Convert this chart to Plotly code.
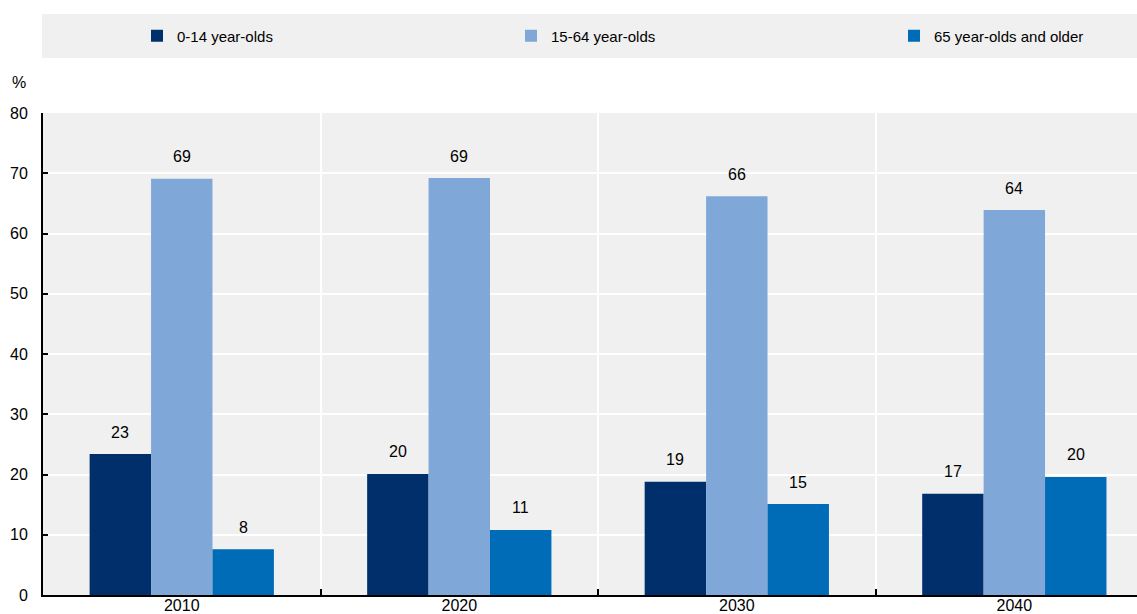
import plotly.graph_objects as go

years = ["2010", "2020", "2030", "2040"]
age_0_14 = [23.4, 20.1, 18.8, 16.8]
age_15_64 = [69.1, 69.2, 66.2, 63.9]
age_65_plus = [7.6, 10.8, 15.1, 19.6]
series_names = ["0-14 year-olds", "15-64 year-olds", "65 year-olds and older"]
series_colors = ["#002F6C", "#7FA8D9", "#006BB6"]
y_ticks = [0, 10, 20, 30, 40, 50, 60, 70, 80]

FONT = "Liberation Sans Narrow, Arial Narrow, Liberation Sans, Arial, sans-serif"
FS = 16
W, H = 1137, 614
ML, MR, MT, MB = 43, 0, 113, 19
plot_w = W - ML - MR
plot_h = H - MT - MB

fig = go.Figure()
all_series = [age_0_14, age_15_64, age_65_plus]
legend_ids = ["legend", "legend2", "legend3"]
for name, vals, col, lid in zip(series_names, all_series, series_colors, legend_ids):
    fig.add_trace(go.Bar(
        x=years, y=vals, name=name, legend=lid,
        marker=dict(color=col, line=dict(width=0)),
        hoverinfo="x+y+name",
    ))

# value labels above bars
x_range = [-0.5, 3.442]
cat_px = plot_w / (x_range[1] - x_range[0])
bargap = 0.336
bar_px = cat_px * (1 - bargap) / 3
for i, vals in enumerate(all_series):
    for j, v in enumerate(vals):
        fig.add_annotation(
            x=j, y=v, xref="x", yref="y", text=f"{v:.0f}", showarrow=False,
            xshift=(i - 1) * bar_px, yshift=22, yanchor="middle",
            font=dict(family=FONT, size=FS, color="#000000"),
        )

# legend band
fig.add_shape(type="rect", xref="paper", yref="paper",
              x0=-1 / plot_w, x1=1, y0=(H - MB - 58) / plot_h, y1=(H - MB - 14) / plot_h,
              fillcolor="#F0F0F0", line=dict(width=0), layer="below")

fig.add_annotation(xref="paper", yref="paper", x=-15 / plot_w, y=(H - MB - 82) / plot_h,
                   text="%", showarrow=False, xanchor="right", yanchor="middle",
                   font=dict(family=FONT, size=FS, color="#000000"))

legend_text_x = [179, 553, 936]
legend_y = (H - MB - 36) / plot_h
legend_common = dict(
    orientation="h", xanchor="left", yanchor="middle", y=legend_y,
    bgcolor="rgba(0,0,0,0)", font=dict(family=FONT, size=15, color="#000000"),
)

fig.update_layout(
    width=W, height=H,
    margin=dict(l=ML, r=MR, t=MT, b=MB, pad=0, autoexpand=False),
    paper_bgcolor="#FFFFFF", plot_bgcolor="#F0F0F0",
    barmode="group", bargap=bargap, bargroupgap=0,
    font=dict(family=FONT, size=FS, color="#000000"),
    showlegend=True,
    legend=dict(x=(legend_text_x[0] - 42 - ML) / plot_w, **legend_common),
    legend2=dict(x=(legend_text_x[1] - 42 - ML) / plot_w, **legend_common),
    legend3=dict(x=(legend_text_x[2] - 42 - ML) / plot_w, **legend_common),
    xaxis=dict(
        type="category", range=x_range, showgrid=True, gridcolor="#FFFFFF", gridwidth=2,
        tickson="boundaries", ticks="inside", ticklen=6, tickcolor="#000000", tickwidth=2,
        showline=True, linecolor="#000000", linewidth=2,
        ticklabelstandoff=-5, tickfont=dict(family=FONT, size=FS),
        zeroline=False, fixedrange=True,
    ),
    yaxis=dict(
        range=[0, 80], tickvals=y_ticks, showgrid=True, gridcolor="#FFFFFF", gridwidth=2,
        showline=True, linecolor="#000000", linewidth=2,
        ticks="inside", ticklen=5, tickcolor="#000000", tickwidth=2,
        ticklabelstandoff=10, tickfont=dict(family=FONT, size=FS),
        zeroline=False, fixedrange=True,
    ),
)

fig.write_html(
    "out.html",
    config={"displayModeBar": False},
    post_script="document.body.style.margin='0';document.body.style.overflow='hidden';",
)
